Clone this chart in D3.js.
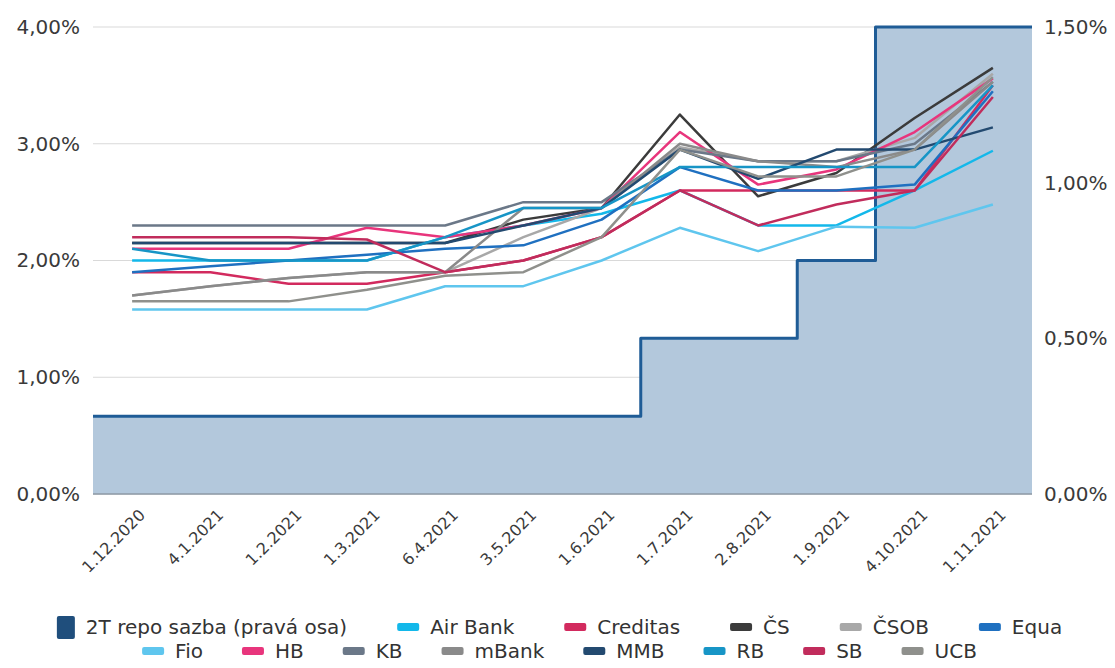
<!DOCTYPE html>
<meta charset="utf-8">
<script src="https://cdn.jsdelivr.net/npm/d3@7"></script>
<style>
body { margin: 0; background: #fff; font-family: "DejaVu Sans", sans-serif; }
.grid line { stroke: #d9d9d9; }
.axis text { fill: #3a3a3a; }
</style>
<body>
<script>
// Data
var dates = ["1.12.2020", "4.1.2021", "1.2.2021", "1.3.2021", "6.4.2021", "3.5.2021",
             "1.6.2021", "1.7.2021", "2.8.2021", "1.9.2021", "4.10.2021", "1.11.2021"];

var repo = [0.25, 0.25, 0.25, 0.25, 0.25, 0.25, 0.25, 0.5, 0.5, 0.75, 1.5, 1.5];

var banks = ["Air Bank", "Creditas", "ČS", "ČSOB", "Equa", "Fio", "HB", "KB", "mBank", "MMB", "RB", "SB", "UCB"];
var bankColors = ["#13b8ea", "#d22a5e", "#3b3b3b", "#a8a8a8", "#1f70c0", "#5fc6ee", "#e8357c",
                  "#6b7888", "#8a8a8a", "#234a70", "#1795c6", "#c12c5c", "#8f908c"];

var airBank  = [2.00, 2.00, 2.00, 2.00, 2.20, 2.30, 2.40, 2.60, 2.30, 2.30, 2.60, 2.94];
var creditas = [1.90, 1.90, 1.80, 1.80, 1.90, 2.00, 2.20, 2.60, 2.60, 2.60, 2.60, 3.50];
var cs       = [2.15, 2.15, 2.15, 2.15, 2.15, 2.35, 2.45, 3.25, 2.55, 2.75, 3.22, 3.65];
var csob     = [1.70, 1.78, 1.85, 1.90, 1.90, 2.20, 2.45, 2.97, 2.85, 2.85, 3.05, 3.60];
var equa     = [1.90, 1.95, 2.00, 2.05, 2.10, 2.13, 2.35, 2.80, 2.60, 2.60, 2.65, 3.45];
var fio      = [1.58, 1.58, 1.58, 1.58, 1.78, 1.78, 2.00, 2.28, 2.08, 2.29, 2.28, 2.48];
var hb       = [2.10, 2.10, 2.10, 2.28, 2.20, 2.30, 2.45, 3.10, 2.65, 2.78, 3.10, 3.56];
var kb       = [2.30, 2.30, 2.30, 2.30, 2.30, 2.50, 2.50, 2.95, 2.85, 2.85, 3.00, 3.53];
var mbank    = [1.70, 1.78, 1.85, 1.90, 1.90, 2.45, 2.45, 3.00, 2.85, 2.80, 2.95, 3.53];
var mmb      = [2.15, 2.15, 2.15, 2.15, 2.15, 2.30, 2.45, 2.95, 2.70, 2.95, 2.95, 3.14];
var rb       = [2.10, 2.00, 2.00, 2.00, 2.20, 2.45, 2.45, 2.80, 2.80, 2.80, 2.80, 3.50];
var sb       = [2.20, 2.20, 2.20, 2.18, 1.90, 2.00, 2.20, 2.60, 2.30, 2.48, 2.60, 3.40];
var ucb      = [1.65, 1.65, 1.65, 1.75, 1.87, 1.90, 2.20, 2.95, 2.72, 2.72, 2.95, 3.57];

var leftTicks = [0, 1, 2, 3, 4];
var rightTicks = [0, 0.5, 1, 1.5];

var seriesValues = [airBank, creditas, cs, csob, equa, fio, hb, kb, mbank, mmb, rb, sb, ucb];

// Dimensions
var W = 1115, H = 668,
    margin = {top: 27, right: 83, bottom: 174, left: 93},
    width = W - margin.left - margin.right,
    height = H - margin.top - margin.bottom;

var svg = d3.select("body").append("svg")
  .attr("width", W).attr("height", H);

var g = svg.append("g")
  .attr("transform", "translate(" + margin.left + "," + margin.top + ")");

var x = d3.scaleBand().domain(dates).range([0, width]);
var yL = d3.scaleLinear().domain([0, 4]).range([height, 0]);
var yR = d3.scaleLinear().domain([0, 1.5]).range([height, 0]);

var fmt = function(d) { return d3.format(".2f")(d).replace(".", ",") + "%"; };

// gridlines
g.append("g").attr("class", "grid")
  .selectAll("line").data(leftTicks).enter().append("line")
  .attr("x1", 0).attr("x2", width)
  .attr("y1", function(d) { return yL(d); })
  .attr("y2", function(d) { return yL(d); });

// repo step area (each band filled)
var repoPts = [];
dates.forEach(function(d, i) {
  repoPts.push([x(d), yR(repo[i])]);
  repoPts.push([x(d) + x.bandwidth(), yR(repo[i])]);
});
var areaPath = d3.area().x(function(p) { return p[0]; }).y0(yR(0)).y1(function(p) { return p[1]; });
g.append("path").datum(repoPts)
  .attr("d", areaPath)
  .attr("fill", "#b3c8dc");
g.append("path").datum(repoPts)
  .attr("d", d3.line().x(function(p) { return p[0]; }).y(function(p) { return p[1]; }))
  .attr("fill", "none")
  .attr("stroke", "#1f5c96")
  .attr("stroke-width", 3)
  .attr("stroke-linejoin", "round");

// baseline
g.append("line")
  .attr("x1", 0).attr("x2", width)
  .attr("y1", height).attr("y2", height)
  .attr("stroke", "#8e9aa6").attr("stroke-width", 1.5);

// bank lines
var line = d3.line()
  .x(function(d, i) { return x(dates[i]) + x.bandwidth() / 2; })
  .y(function(d) { return yL(d); });

seriesValues.forEach(function(vals, k) {
  g.append("path").datum(vals)
    .attr("d", line)
    .attr("fill", "none")
    .attr("stroke", bankColors[k])
    .attr("stroke-width", 2.5)
    .attr("stroke-linejoin", "round");
});

// axes
var leftAxis = g.append("g").attr("class", "axis")
  .call(d3.axisLeft(yL).tickValues(leftTicks).tickFormat(fmt).tickSize(0).tickPadding(13));
leftAxis.select(".domain").remove();
leftAxis.selectAll("text").attr("font-size", "20px").attr("font-family", "DejaVu Sans, sans-serif");

var rightAxis = g.append("g").attr("class", "axis")
  .attr("transform", "translate(" + width + ",0)")
  .call(d3.axisRight(yR).tickValues(rightTicks).tickFormat(fmt).tickSize(0).tickPadding(12));
rightAxis.select(".domain").remove();
rightAxis.selectAll("text").attr("font-size", "20px").attr("font-family", "DejaVu Sans, sans-serif");

var bottomAxis = g.append("g").attr("class", "axis")
  .attr("transform", "translate(0," + height + ")")
  .call(d3.axisBottom(x).tickSize(0));
bottomAxis.select(".domain").remove();
bottomAxis.selectAll("text")
  .attr("font-size", "16px")
  .attr("font-family", "DejaVu Sans, sans-serif")
  .style("text-anchor", "end")
  .attr("dy", 0)
  .attr("transform", "translate(12,20) rotate(-45)");

// legend
var legendItems = [{name: "2T repo sazba (pravá osa)", color: "#1f4e7c", repo: true}];
banks.forEach(function(b, i) { legendItems.push({name: b, color: bankColors[i]}); });
var rows = [legendItems.slice(0, 6), legendItems.slice(6)];
var rowY = [627, 651];
var rowGap = [50, 39];

rows.forEach(function(items, r) {
  var lg = svg.append("g");
  var xpos = 0;
  items.forEach(function(it) {
    var item = lg.append("g").attr("transform", "translate(" + xpos + ",0)");
    var sw = it.repo ? 18 : 22;
    if (it.repo) {
      item.append("rect").attr("x", 0).attr("y", -11).attr("width", sw).attr("height", 23)
        .attr("rx", 2).attr("fill", it.color);
    } else {
      item.append("rect").attr("x", 0).attr("y", -4).attr("width", sw).attr("height", 8)
        .attr("rx", 2).attr("fill", it.color);
    }
    var t = item.append("text")
      .attr("x", sw + 11).attr("y", 0).attr("dy", "0.36em")
      .attr("font-size", "20px").attr("fill", "#333")
      .text(it.name);
    xpos += sw + 11 + t.node().getComputedTextLength() + rowGap[r];
  });
  var total = xpos - rowGap[r];
  lg.attr("transform", "translate(" + (W / 2 - total / 2 + 2) + "," + rowY[r] + ")");
});
</script>
</body>
